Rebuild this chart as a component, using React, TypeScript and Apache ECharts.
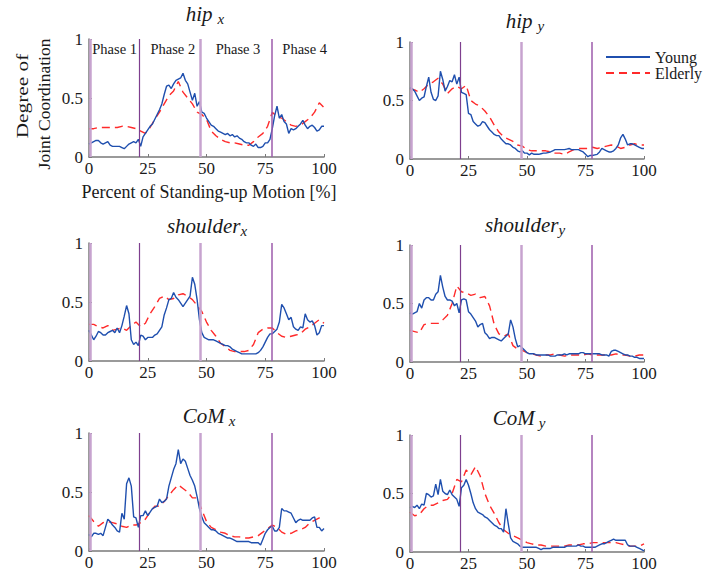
import React, { useEffect, useRef } from 'react';
import * as echarts from 'echarts';

// ---------- data ----------
const YOUNG_STEP = 1; // percent per Young sample
const ELDERLY_STEP = 2; // percent per Elderly sample

const hipXYoung = [0.11,0.12,0.13,0.14,0.14,0.12,0.11,0.12,0.13,0.10,0.09,0.09,0.09,0.09,0.08,0.07,0.09,0.11,0.12,0.13,0.12,0.15,0.09,0.17,0.20,0.23,0.26,0.28,0.32,0.36,0.40,0.45,0.53,0.60,0.61,0.58,0.62,0.65,0.66,0.67,0.71,0.65,0.62,0.55,0.48,0.54,0.43,0.47,0.38,0.37,0.33,0.30,0.27,0.26,0.24,0.22,0.21,0.20,0.19,0.20,0.18,0.19,0.17,0.18,0.16,0.15,0.13,0.12,0.12,0.10,0.09,0.11,0.08,0.08,0.09,0.12,0.12,0.15,0.24,0.35,0.43,0.33,0.36,0.30,0.28,0.20,0.24,0.23,0.24,0.26,0.28,0.31,0.27,0.24,0.26,0.27,0.25,0.22,0.23,0.26,0.26];
const hipXElderly = [0.24,0.24,0.25,0.25,0.25,0.25,0.25,0.26,0.26,0.25,0.24,0.22,0.20,0.25,0.32,0.38,0.45,0.52,0.56,0.64,0.55,0.50,0.45,0.38,0.36,0.32,0.22,0.18,0.15,0.13,0.12,0.12,0.11,0.10,0.10,0.13,0.17,0.20,0.26,0.38,0.34,0.33,0.30,0.27,0.26,0.27,0.30,0.33,0.38,0.46,0.42];

const hipYYoung = [0.61,0.60,0.58,0.54,0.50,0.52,0.53,0.62,0.70,0.57,0.51,0.50,0.54,0.75,0.68,0.58,0.62,0.67,0.66,0.72,0.64,0.70,0.57,0.56,0.55,0.39,0.38,0.32,0.30,0.28,0.29,0.32,0.31,0.28,0.25,0.23,0.21,0.20,0.20,0.17,0.15,0.13,0.13,0.12,0.10,0.09,0.07,0.06,0.07,0.05,0.05,0.035,0.05,0.04,0.04,0.04,0.045,0.05,0.05,0.055,0.06,0.07,0.08,0.08,0.08,0.08,0.08,0.085,0.09,0.08,0.08,0.08,0.08,0.07,0.06,0.04,0.02,0.03,0.03,0.035,0.04,0.06,0.09,0.08,0.07,0.06,0.06,0.07,0.09,0.12,0.18,0.21,0.17,0.12,0.13,0.13,0.12,0.11,0.10,0.09,0.09];
const hipYElderly = [0.60,0.59,0.57,0.60,0.64,0.66,0.69,0.64,0.56,0.60,0.62,0.60,0.63,0.50,0.47,0.45,0.41,0.36,0.29,0.23,0.19,0.17,0.15,0.12,0.11,0.08,0.07,0.07,0.07,0.07,0.06,0.05,0.05,0.04,0.06,0.08,0.09,0.09,0.09,0.10,0.09,0.10,0.11,0.12,0.11,0.09,0.10,0.12,0.13,0.12,0.12];

const shoulderXYoung = [0.26,0.22,0.18,0.21,0.25,0.24,0.22,0.22,0.24,0.25,0.26,0.24,0.28,0.24,0.30,0.38,0.47,0.40,0.18,0.14,0.16,0.13,0.22,0.21,0.18,0.20,0.20,0.20,0.22,0.23,0.26,0.29,0.39,0.45,0.52,0.53,0.58,0.54,0.52,0.49,0.46,0.49,0.52,0.55,0.71,0.65,0.52,0.35,0.24,0.20,0.19,0.18,0.18,0.18,0.17,0.16,0.15,0.14,0.13,0.13,0.12,0.10,0.09,0.08,0.07,0.06,0.06,0.06,0.06,0.06,0.06,0.06,0.07,0.09,0.12,0.16,0.20,0.23,0.23,0.25,0.27,0.33,0.48,0.45,0.40,0.35,0.37,0.29,0.27,0.26,0.29,0.28,0.40,0.35,0.33,0.34,0.30,0.22,0.24,0.30,0.30];
const shoulderXElderly = [0.31,0.31,0.29,0.28,0.30,0.26,0.27,0.28,0.26,0.30,0.33,0.29,0.32,0.40,0.46,0.53,0.55,0.52,0.53,0.56,0.57,0.55,0.52,0.47,0.42,0.33,0.26,0.21,0.15,0.12,0.09,0.08,0.08,0.08,0.09,0.14,0.24,0.27,0.28,0.28,0.24,0.21,0.20,0.21,0.22,0.23,0.27,0.29,0.32,0.35,0.32];

const shoulderYYoung = [0.42,0.41,0.42,0.43,0.50,0.46,0.53,0.55,0.55,0.53,0.53,0.58,0.60,0.74,0.64,0.56,0.53,0.53,0.52,0.48,0.50,0.42,0.53,0.54,0.53,0.43,0.41,0.38,0.35,0.30,0.32,0.33,0.25,0.23,0.20,0.21,0.21,0.20,0.19,0.18,0.20,0.22,0.24,0.36,0.30,0.20,0.13,0.14,0.12,0.10,0.08,0.07,0.07,0.07,0.06,0.06,0.06,0.06,0.06,0.06,0.05,0.05,0.05,0.06,0.06,0.06,0.07,0.06,0.07,0.07,0.07,0.07,0.07,0.08,0.08,0.07,0.07,0.07,0.07,0.07,0.07,0.07,0.06,0.06,0.06,0.05,0.09,0.10,0.10,0.09,0.08,0.07,0.06,0.06,0.05,0.05,0.04,0.04,0.03,0.03,0.03];
const shoulderYElderly = [0.27,0.26,0.25,0.32,0.33,0.33,0.33,0.36,0.40,0.50,0.65,0.60,0.59,0.57,0.58,0.55,0.56,0.48,0.32,0.24,0.22,0.24,0.14,0.11,0.10,0.08,0.07,0.06,0.05,0.06,0.06,0.07,0.06,0.05,0.06,0.06,0.06,0.06,0.07,0.06,0.06,0.06,0.06,0.06,0.07,0.06,0.06,0.05,0.05,0.06,0.06];

const comXYoung = [0.14,0.12,0.15,0.15,0.14,0.15,0.13,0.20,0.27,0.25,0.22,0.20,0.17,0.16,0.32,0.27,0.57,0.62,0.55,0.29,0.28,0.20,0.30,0.30,0.34,0.30,0.33,0.36,0.37,0.38,0.44,0.41,0.42,0.44,0.55,0.62,0.69,0.74,0.86,0.74,0.78,0.76,0.70,0.64,0.60,0.55,0.46,0.36,0.29,0.24,0.22,0.20,0.18,0.18,0.17,0.15,0.14,0.13,0.12,0.11,0.11,0.10,0.09,0.08,0.08,0.08,0.08,0.08,0.08,0.07,0.07,0.07,0.07,0.05,0.10,0.15,0.18,0.20,0.21,0.17,0.17,0.20,0.36,0.34,0.34,0.33,0.32,0.28,0.24,0.26,0.27,0.26,0.26,0.26,0.26,0.28,0.29,0.20,0.20,0.17,0.19];
const comXElderly = [0.30,0.25,0.21,0.24,0.25,0.24,0.23,0.21,0.20,0.22,0.22,0.24,0.27,0.33,0.38,0.38,0.42,0.47,0.52,0.56,0.53,0.50,0.45,0.45,0.35,0.25,0.20,0.18,0.16,0.15,0.13,0.12,0.12,0.11,0.11,0.12,0.13,0.16,0.19,0.22,0.20,0.16,0.14,0.15,0.17,0.18,0.20,0.24,0.26,0.28,0.28];

const comYYoung = [0.38,0.39,0.38,0.40,0.37,0.41,0.40,0.50,0.49,0.47,0.48,0.58,0.49,0.62,0.52,0.50,0.49,0.53,0.49,0.47,0.45,0.39,0.55,0.57,0.62,0.57,0.50,0.42,0.37,0.34,0.33,0.32,0.30,0.29,0.27,0.25,0.23,0.22,0.20,0.20,0.17,0.37,0.24,0.12,0.09,0.08,0.07,0.05,0.04,0.04,0.04,0.04,0.04,0.04,0.04,0.03,0.02,0.03,0.03,0.03,0.03,0.04,0.04,0.04,0.04,0.04,0.04,0.05,0.05,0.05,0.05,0.05,0.06,0.05,0.05,0.04,0.04,0.04,0.04,0.04,0.05,0.06,0.07,0.07,0.08,0.09,0.10,0.11,0.10,0.10,0.10,0.10,0.10,0.06,0.05,0.05,0.05,0.04,0.03,0.02,0.01];
const comYElderly = [0.34,0.31,0.32,0.37,0.40,0.40,0.42,0.44,0.45,0.50,0.62,0.60,0.70,0.66,0.73,0.65,0.50,0.40,0.33,0.25,0.19,0.16,0.14,0.12,0.10,0.08,0.07,0.06,0.06,0.05,0.05,0.05,0.05,0.05,0.06,0.06,0.06,0.07,0.07,0.08,0.08,0.08,0.08,0.08,0.08,0.07,0.06,0.05,0.05,0.05,0.07];

const PANEL_TITLES = [['hip', 'x'], ['hip', 'y'], ['shoulder', 'x'], ['shoulder', 'y'], ['CoM', 'x'], ['CoM', 'y']];
const YOUNG_SERIES = [hipXYoung, hipYYoung, shoulderXYoung, shoulderYYoung, comXYoung, comYYoung];
const ELDERLY_SERIES = [hipXElderly, hipYElderly, shoulderXElderly, shoulderYElderly, comXElderly, comYElderly];
const SERIES_NAMES = ['Young', 'Elderly'];
const PHASE_BOUNDS = [0.5, 21.3, 47.5, 77.6, 100];
const PHASE_NAMES = ['Phase 1', 'Phase 2', 'Phase 3', 'Phase 4'];
const X_MIN = 0, X_MAX = 100, X_INTERVAL = 25;
const Y_MIN = 0, Y_MAX = 1, Y_INTERVAL = 0.5;
const X_NAME = 'Percent of Standing-up Motion [%]';
const Y_NAME_LINES = ['Degree of', 'Joint Coordination'];

// ---------- styles / layout ----------
const FONT = '"Liberation Serif", "Times New Roman", Times, serif';
const BLUE = '#1f4fae';
const RED = '#ff2a2a';
const AXIS_COLOR = '#7a7a7a';
const TEXT_COLOR = '#1a1a1a';
const GRIDS = [
  { left: 89, top: 39, width: 235, height: 118 },
  { left: 410, top: 42, width: 234, height: 117 },
  { left: 89, top: 243, width: 235, height: 118 },
  { left: 410, top: 245, width: 234, height: 117 },
  { left: 89, top: 433, width: 235, height: 118 },
  { left: 410, top: 435, width: 234, height: 117 },
];
const VLINE_STYLES = [
  { color: '#c7a3cf', width: 2.5, type: 'solid' },
  { color: '#7e3f8e', width: 1.2, type: 'solid' },
  { color: '#c7a3cf', width: 2.5, type: 'solid' },
  { color: '#9c5bab', width: 1.5, type: 'solid' },
];
const TITLE_POS = [
  { x: 205, y: 14, gap: 5 },
  { x: 525, y: 21, gap: 5 },
  { x: 207, y: 226, gap: 0 },
  { x: 525, y: 225, gap: 0 },
  { x: 209, y: 416, gap: 4 },
  { x: 519, y: 418, gap: 4 },
];
const PHASE_LABEL_OFFSETS = [0, 3, 2, 7];

function buildOption(): any {
  const grid = GRIDS.map((g) => ({ ...g, containLabel: false }));
  const xAxis = GRIDS.map((_, i) => ({
    type: 'value',
    gridIndex: i,
    min: X_MIN,
    max: X_MAX,
    interval: X_INTERVAL,
    axisLine: { show: true, onZero: false, lineStyle: { color: AXIS_COLOR, width: 1.5 } },
    axisTick: { show: true, inside: true, length: 3, lineStyle: { color: AXIS_COLOR } },
    axisLabel: { fontFamily: FONT, fontSize: 17, color: TEXT_COLOR, margin: 3 },
    splitLine: { show: false },
  }));
  const yAxis = GRIDS.map((_, i) => ({
    type: 'value',
    gridIndex: i,
    min: Y_MIN,
    max: Y_MAX,
    interval: Y_INTERVAL,
    axisLine: { show: true, onZero: false, lineStyle: { color: AXIS_COLOR, width: 1.5 } },
    axisTick: { show: true, inside: true, length: 3, lineStyle: { color: AXIS_COLOR } },
    axisLabel: { fontFamily: FONT, fontSize: 17, color: TEXT_COLOR, margin: 6 },
    splitLine: { show: false },
  }));

  const series: any[] = [];
  GRIDS.forEach((_, i) => {
    const young: any = {
      name: SERIES_NAMES[0],
      type: 'line',
      xAxisIndex: i,
      yAxisIndex: i,
      data: YOUNG_SERIES[i].map((v, k) => [k * YOUNG_STEP, v]),
      symbol: 'none',
      showSymbol: false,
      lineStyle: { color: BLUE, width: 1.4 },
      itemStyle: { color: BLUE },
      z: 3,
      markLine: {
        silent: true,
        symbol: 'none',
        label: { show: false },
        lineStyle: { type: 'solid' },
        data: PHASE_BOUNDS.slice(0, 4).map((b, j) => ({ xAxis: b, lineStyle: VLINE_STYLES[j] })),
      },
    };
    if (i === 0) {
      young.markArea = {
        silent: true,
        itemStyle: { color: 'rgba(0,0,0,0)' },
        label: {
          show: true,
          position: 'insideTop',
          distance: 2,
          fontFamily: FONT,
          fontSize: 14.5,
          color: TEXT_COLOR,
        },
        data: PHASE_NAMES.map((n, j) => [
          { xAxis: PHASE_BOUNDS[j], name: n, label: { offset: [PHASE_LABEL_OFFSETS[j], 0] } },
          { xAxis: PHASE_BOUNDS[j + 1] },
        ]),
      };
    }
    series.push(young);
    series.push({
      name: SERIES_NAMES[1],
      type: 'line',
      xAxisIndex: i,
      yAxisIndex: i,
      data: ELDERLY_SERIES[i].map((v, k) => [k * ELDERLY_STEP, v]),
      symbol: 'none',
      showSymbol: false,
      lineStyle: { color: RED, width: 1.4, type: [8, 5] },
      itemStyle: { color: RED },
      z: 2,
    });
  });

  const graphic: any[] = PANEL_TITLES.map(([main, sub], i) => ({
    type: 'text',
    x: TITLE_POS[i].x,
    y: TITLE_POS[i].y,
    silent: true,
    style: {
      text: `{a|${main}}{b|${sub}}`,
      align: 'center',
      verticalAlign: 'middle',
      rich: {
        a: { fontFamily: FONT, fontStyle: 'italic', fontSize: 21, lineHeight: 24, fill: TEXT_COLOR, verticalAlign: 'middle' },
        b: { fontFamily: FONT, fontStyle: 'italic', fontSize: 15, lineHeight: 15, fill: TEXT_COLOR, verticalAlign: 'bottom', padding: [0, 0, 0, TITLE_POS[i].gap] },
      },
    },
  }));
  graphic.push({
    type: 'text',
    x: 209,
    y: 192,
    silent: true,
    style: { text: X_NAME, align: 'center', verticalAlign: 'middle', fontFamily: FONT, fontSize: 18, fill: TEXT_COLOR },
  });
  graphic.push({
    type: 'text',
    x: 22,
    y: 96,
    rotation: Math.PI / 2,
    scaleX: 1.22,
    silent: true,
    style: { text: Y_NAME_LINES[0], align: 'center', verticalAlign: 'middle', fontFamily: FONT, fontSize: 17.5, fill: TEXT_COLOR },
  });
  graphic.push({
    type: 'text',
    x: 44,
    y: 104,
    rotation: Math.PI / 2,
    silent: true,
    style: { text: Y_NAME_LINES[1], align: 'center', verticalAlign: 'middle', fontFamily: FONT, fontSize: 17.5, fill: TEXT_COLOR },
  });

  return {
    animation: false,
    backgroundColor: '#ffffff',
    grid,
    xAxis,
    yAxis,
    series,
    graphic,
    legend: {
      data: SERIES_NAMES,
      orient: 'vertical',
      left: 600,
      top: 44,
      itemWidth: 44,
      itemHeight: 10,
      itemGap: 0,
      selectedMode: false,
      itemStyle: { opacity: 0 },
      textStyle: { fontFamily: FONT, fontSize: 16, color: TEXT_COLOR },
    },
  };
}

export default function App() {
  const ref = useRef<HTMLDivElement>(null);
  useEffect(() => {
    if (!ref.current) return;
    const chart = echarts.init(ref.current, null, { renderer: 'svg' });
    chart.setOption(buildOption());
    return () => {
      chart.dispose();
    };
  }, []);
  return (
    <div
      ref={ref}
      style={{ position: 'fixed', left: 0, top: 0, width: 715, height: 573, background: '#fff' }}
    />
  );
}
